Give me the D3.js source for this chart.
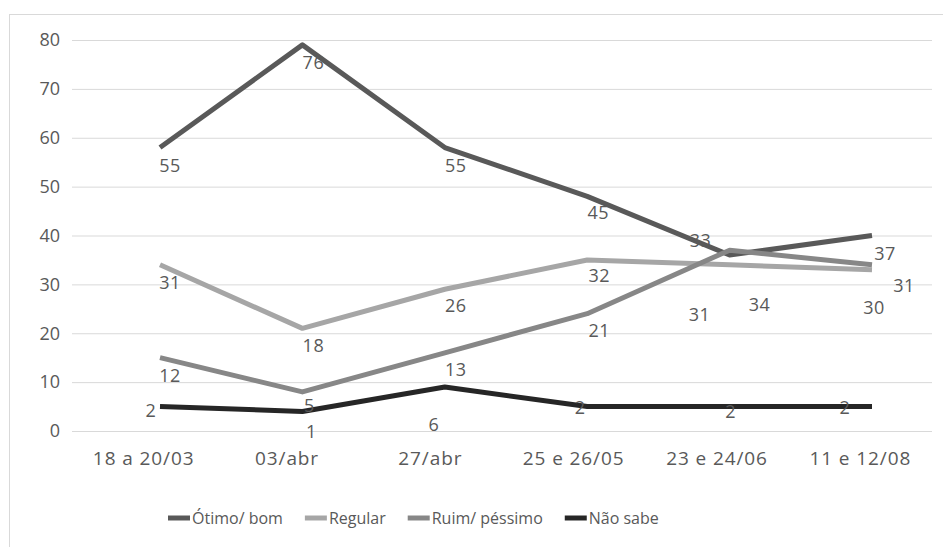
<!DOCTYPE html>
<html>
<head>
<meta charset="utf-8">
<script src="https://cdn.jsdelivr.net/npm/d3@7"></script>
<style>
  html, body { margin: 0; padding: 0; background: #ffffff; }
  svg { display: block; }
  text { font-family: "Open Sans", "Noto Sans", sans-serif; fill: #595959; }
</style>
</head>
<body>
<svg id="chart" width="943" height="547"></svg>
<script>
// ---- data ----
const categories = ["18 a 20/03", "03/abr", "27/abr", "25 e 26/05", "23 e 24/06", "11 e 12/08"];
const seriesNames = ["Ótimo/ bom", "Regular", "Ruim/ péssimo", "Não sabe"];
const otimoValues = [58, 79, 58, 48, 36, 40];
const regularValues = [34, 21, 29, 35, 34, 33];
const ruimValues = [15, 8, 16, 24, 37, 34];
const naoSabeValues = [5, 4, 9, 5, 5, 5];
const otimoLabels = [55, 76, 55, 45, 33, 37];
const regularLabels = [31, 18, 26, 32, 31, 30];
const ruimLabels = [12, 5, 13, 21, 34, 31];
const naoSabeLabels = [2, 1, 6, 2, 2, 2];
const yTicks = [0, 10, 20, 30, 40, 50, 60, 70, 80];

// ---- layout / style ----
const colors = ["#595959", "#a6a6a6", "#878787", "#262626"];
const labelOffsets = [
  [[10, 17], [11, 17], [11, 17], [11, 16], [-29, -15], [13, 17]],
  [[10, 17], [11, 17], [11, 16], [12, 15], [-30, 49], [2, 37]],
  [[10, 17], [7, 13], [11, 16], [12, 16], [30, 54], [32, 20]],
  [[-9, 3], [9, 20], [-11, 37], [-7, 0], [1, 4], [-27, 0]]
];

const series = [
  { name: seriesNames[0], values: otimoValues, labels: otimoLabels },
  { name: seriesNames[1], values: regularValues, labels: regularLabels },
  { name: seriesNames[2], values: ruimValues, labels: ruimLabels },
  { name: seriesNames[3], values: naoSabeValues, labels: naoSabeLabels }
];

const svg = d3.select("#chart");

// outer frame
svg.append("rect")
  .attr("x", 9.5).attr("y", 14.5)
  .attr("width", 960).attr("height", 560)
  .attr("fill", "none").attr("stroke", "#d9d9d9").attr("stroke-width", 1);

const y = d3.scaleLinear().domain([0, 80]).range([431, 40]);
const xBand = d3.scaleBand().domain(categories).range([72, 932]);
const xPoint = d3.scalePoint().domain(categories).range([160, 872]);

// gridlines
const yAxis = d3.axisLeft(y).tickValues(yTicks).tickSize(-(932 - 72)).tickPadding(12);
const gy = svg.append("g").attr("transform", "translate(72,0)").call(yAxis);
gy.select(".domain").remove();
gy.selectAll(".tick line").attr("stroke", "#d9d9d9").attr("stroke-width", 1);
gy.selectAll(".tick text")
  .attr("font-size", 18)
  .style("font-family", "'Open Sans', sans-serif")
  .attr("fill", "#595959");

// x axis labels
const xAxis = d3.axisBottom(xBand).tickSize(0).tickPadding(21);
const gx = svg.append("g").attr("transform", "translate(0,431)").call(xAxis);
gx.select(".domain").remove();
gx.selectAll(".tick text")
  .attr("font-size", 19)
  .attr("letter-spacing", "0.9px")
  .style("font-family", "'Open Sans', sans-serif")
  .attr("fill", "#595959");

// lines
const line = d3.line()
  .x((d, i) => xPoint(categories[i]))
  .y(d => y(d));

series.forEach((s, si) => {
  svg.append("path")
    .datum(s.values)
    .attr("d", line)
    .attr("fill", "none")
    .attr("stroke", colors[si])
    .attr("stroke-width", 5)
    .attr("stroke-linejoin", "round")
    .attr("stroke-linecap", "butt");
});

// data labels
series.forEach((s, si) => {
  svg.append("g").selectAll("text")
    .data(s.labels)
    .join("text")
    .attr("x", (d, i) => xPoint(categories[i]) + labelOffsets[si][i][0])
    .attr("y", (d, i) => y(s.values[i]) + labelOffsets[si][i][1])
    .attr("text-anchor", "middle")
    .attr("dominant-baseline", "central")
    .attr("font-size", 18)
    .attr("letter-spacing", "0.5px")
    .attr("fill", "#595959")
    .text(d => d);
});

// legend
const legend = svg.append("g").attr("transform", "translate(168,518)");
let lx = 0;
series.forEach((s, si) => {
  const g = legend.append("g").attr("transform", `translate(${lx},0)`);
  g.append("line")
    .attr("x1", 0).attr("x2", 22).attr("y1", 0).attr("y2", 0)
    .attr("stroke", colors[si]).attr("stroke-width", 5);
  const t = g.append("text")
    .attr("x", 24).attr("y", 0)
    .attr("dominant-baseline", "central")
    .attr("font-size", 16)
    .attr("fill", "#595959")
    .text(s.name);
  lx += 24 + t.node().getComputedTextLength() + 22;
});
</script>
</body>
</html>
